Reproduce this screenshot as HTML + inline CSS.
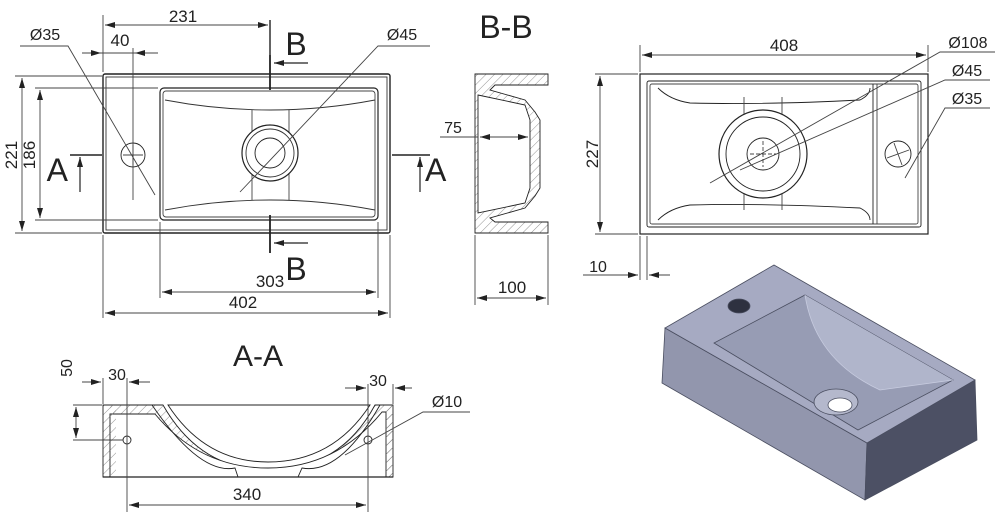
<!DOCTYPE html>
<html><head><meta charset="utf-8"><style>
html,body{margin:0;padding:0;background:#fff}
svg{display:block}
text{font-family:"Liberation Sans",sans-serif;fill:#222}
</style></head><body>
<svg width="1000" height="516" viewBox="0 0 1000 516" xmlns="http://www.w3.org/2000/svg">
<defs>
<marker id="ar" markerWidth="10" markerHeight="6" refX="10" refY="3" orient="auto-start-reverse" markerUnits="userSpaceOnUse"><path d="M0,0 L10,3 L0,6 z" fill="#222"/></marker>
<pattern id="h" width="6" height="6" patternUnits="userSpaceOnUse" patternTransform="rotate(45)"><line x1="0" y1="0" x2="0" y2="6" stroke="#777" stroke-width="0.8"/></pattern>
</defs>
<g stroke="#444" stroke-width="0.9" fill="none">
<!-- TOP-LEFT PLAN -->
<rect x="103" y="74" width="287" height="159" stroke="#222" stroke-width="1.4" rx="2"/>
<rect x="106" y="77" width="281" height="153" stroke="#333"/>
<rect x="160" y="88" width="218" height="132" stroke="#222" stroke-width="1.2" rx="4"/>
<rect x="163" y="91" width="212" height="126" stroke="#444" rx="3"/>
<path d="M165,100 Q270,120 375,100" stroke="#333"/>
<path d="M165,210 Q270,190 375,210" stroke="#333"/>
<line x1="252" y1="110" x2="252" y2="200"/><line x1="289" y1="110" x2="289" y2="200"/>
<circle cx="270" cy="153" r="28" stroke="#222" stroke-width="1.2" fill="#fff"/>
<circle cx="270" cy="153" r="24" stroke="#333"/>
<circle cx="270" cy="153" r="15" stroke="#222"/>
<circle cx="133" cy="155" r="12" stroke="#222"/>
<line x1="123" y1="155" x2="143" y2="155"/><line x1="133" y1="145" x2="133" y2="165"/>
<!-- dims -->
<line x1="103" y1="15" x2="103" y2="72"/>
<line x1="270" y1="20" x2="270" y2="55" stroke="#222" stroke-width="1.4"/>
<line x1="270" y1="55" x2="270" y2="90" stroke="#222" stroke-width="1.8"/>
<line x1="270" y1="215" x2="270" y2="253" stroke="#222" stroke-width="1.8"/>
<line x1="105" y1="25" x2="268" y2="25" marker-start="url(#ar)" marker-end="url(#ar)"/>
<line x1="133" y1="48" x2="133" y2="200"/>
<line x1="82" y1="53" x2="101" y2="53" marker-end="url(#ar)"/>
<line x1="158" y1="53" x2="135" y2="53" marker-end="url(#ar)"/>
<line x1="101" y1="53" x2="135" y2="53"/>
<polyline points="20,46 68,46 155,195"/>
<polyline points="430,46 378,46 240,192"/>
<line x1="274" y1="63" x2="308" y2="63" stroke="#222" stroke-width="1.2" marker-start="url(#ar)"/>
<line x1="274" y1="243" x2="308" y2="243" stroke="#222" stroke-width="1.2" marker-start="url(#ar)"/>
<line x1="15" y1="76" x2="102" y2="76"/><line x1="15" y1="233" x2="102" y2="233"/>
<line x1="22" y1="78" x2="22" y2="231" marker-start="url(#ar)" marker-end="url(#ar)"/>
<line x1="35" y1="88" x2="158" y2="88"/><line x1="35" y1="220" x2="158" y2="220"/>
<line x1="40" y1="90" x2="40" y2="218" marker-start="url(#ar)" marker-end="url(#ar)"/>
<line x1="70" y1="155" x2="102" y2="155" stroke="#222" stroke-width="1.4"/>
<line x1="80" y1="192" x2="80" y2="157" stroke="#222" stroke-width="1.2" marker-end="url(#ar)"/>
<line x1="392" y1="155" x2="430" y2="155" stroke="#222" stroke-width="1.4"/>
<line x1="420" y1="192" x2="420" y2="157" stroke="#222" stroke-width="1.2" marker-end="url(#ar)"/>
<line x1="160" y1="222" x2="160" y2="298"/><line x1="378" y1="222" x2="378" y2="298"/>
<line x1="162" y1="292" x2="376" y2="292" marker-start="url(#ar)" marker-end="url(#ar)"/>
<line x1="103" y1="235" x2="103" y2="318"/><line x1="390" y1="235" x2="390" y2="318"/>
<line x1="105" y1="313" x2="388" y2="313" marker-start="url(#ar)" marker-end="url(#ar)"/>
<!-- B-B SECTION -->
<path d="M475,74 L548,74 L548,85 L495,85 L490,90 L525,100 L535,112 L540,120 L540,188 L535,196 L525,208 L490,218 L495,222 L548,222 L548,233 L475,233 Z" fill="url(#h)" stroke="#222"/>
<path d="M478,95 L525,105 L530,120 L530,188 L525,203 L478,213 Z" fill="#fff" stroke="#222"/>
<line x1="440" y1="137" x2="478" y2="137"/>
<line x1="480" y1="137" x2="528" y2="137" marker-start="url(#ar)" marker-end="url(#ar)"/>
<line x1="475" y1="235" x2="475" y2="305"/><line x1="548" y1="235" x2="548" y2="305"/>
<line x1="477" y1="298" x2="546" y2="298" marker-start="url(#ar)" marker-end="url(#ar)"/>
<!-- RIGHT PLAN -->
<rect x="640" y="74" width="288" height="160" stroke="#222" stroke-width="1.2"/>
<rect x="647" y="81" width="274" height="146" stroke="#222" rx="2"/>
<rect x="650" y="84" width="268" height="140" stroke="#444" rx="2"/>
<line x1="873" y1="84" x2="873" y2="224" stroke="#222"/>
<line x1="877" y1="84" x2="877" y2="224"/>
<path d="M658,88 Q670,100 690,103 Q763,105 860,100 Q870,95 870,88" stroke="#222"/>
<path d="M658,220 Q670,208 690,205 Q763,203 860,208 Q870,213 870,220" stroke="#222"/>
<line x1="744" y1="97" x2="744" y2="210"/><line x1="782" y1="97" x2="782" y2="210"/>
<circle cx="763" cy="154" r="44" stroke="#222" stroke-width="1.2" fill="#fff"/>
<circle cx="763" cy="154" r="37" stroke="#222"/>
<circle cx="763" cy="154" r="16" stroke="#222"/>
<line x1="750" y1="154" x2="776" y2="154" stroke-dasharray="4,2"/><line x1="763" y1="141" x2="763" y2="167" stroke-dasharray="4,2"/>
<circle cx="898" cy="154" r="13" stroke="#222"/>
<line x1="887" y1="158" x2="909" y2="150"/><line x1="894" y1="143" x2="902" y2="165"/>
<line x1="640" y1="45" x2="640" y2="72"/><line x1="928" y1="45" x2="928" y2="72"/>
<line x1="642" y1="55" x2="926" y2="55" marker-start="url(#ar)" marker-end="url(#ar)"/>
<line x1="595" y1="74" x2="638" y2="74"/><line x1="595" y1="234" x2="638" y2="234"/>
<line x1="600" y1="76" x2="600" y2="232" marker-start="url(#ar)" marker-end="url(#ar)"/>
<polyline points="995,52 940,52 710,183"/>
<polyline points="990,80 945,80 740,170"/>
<polyline points="990,108 945,108 905,178"/>
<line x1="640" y1="236" x2="640" y2="280"/><line x1="647" y1="236" x2="647" y2="280"/>
<line x1="583" y1="275" x2="638" y2="275" marker-end="url(#ar)"/>
<line x1="670" y1="275" x2="649" y2="275" marker-end="url(#ar)"/>
<!-- A-A SECTION -->
<path d="M103,405 L163,405 Q200,470 268,470 Q340,470 375,405 L393,405 L393,477 L103,477 Z" fill="url(#h)" stroke="#222"/>
<path d="M110,414 L155,414 Q200,468 268,468 Q336,468 382,412 L386,412 L386,477 L110,477 Z" fill="#fff" stroke="#222"/>
<path d="M168,405 Q205,462 268,462 Q333,462 370,405 Z" fill="#fff" stroke="#222"/>
<path d="M152,405 Q200,475 235,468 L238,477 L298,477 L302,468 Q340,475 380,405" fill="none" stroke="#222"/>
<rect x="110" y="405" width="6" height="72" fill="url(#h)" stroke="none"/>
<rect x="386" y="405" width="7" height="72" fill="url(#h)" stroke="none"/>
<line x1="103" y1="477" x2="393" y2="477" stroke="#222" stroke-width="1.2"/>
<circle cx="127" cy="440" r="4" fill="#fff" stroke="#222"/>
<circle cx="368" cy="440" r="4" fill="#fff" stroke="#222"/>
<line x1="127" y1="378" x2="127" y2="512"/><line x1="368" y1="384" x2="368" y2="512"/>
<line x1="103" y1="378" x2="103" y2="404"/><line x1="393" y1="384" x2="393" y2="404"/>
<line x1="82" y1="382" x2="101" y2="382" marker-end="url(#ar)"/>
<line x1="150" y1="382" x2="129" y2="382" marker-end="url(#ar)"/>
<line x1="345" y1="388" x2="366" y2="388" marker-end="url(#ar)"/>
<line x1="412" y1="388" x2="395" y2="388" marker-end="url(#ar)"/>
<line x1="73" y1="405" x2="102" y2="405"/><line x1="73" y1="440" x2="123" y2="440"/>
<line x1="76" y1="407" x2="76" y2="438" marker-start="url(#ar)" marker-end="url(#ar)"/>
<line x1="129" y1="505" x2="366" y2="505" marker-start="url(#ar)" marker-end="url(#ar)"/>
<polyline points="470,412 423,412 345,455"/>
</g>
<!-- ISOMETRIC -->
<g stroke="#4a4e60" stroke-width="0.8">
<polygon points="665,328 867,443 865,500 662,383" fill="#9296ad"/>
<polygon points="867,443 975,380 977,440 865,500" fill="#4c5064"/>
<polygon points="774,265 975,380 867,443 665,328" fill="#a6aac2"/>
<polygon points="805,295 953,380 858,430 714,343" fill="#979cb4"/>
<path d="M805,295 Q815,360 880,390 L953,380" fill="#b0b5cb" stroke="#c8cce0"/>
<ellipse cx="739" cy="306" rx="11" ry="7" fill="#2e3140"/>
<ellipse cx="836" cy="402" rx="22" ry="13" fill="#b4b8cc"/>
<ellipse cx="840" cy="405" rx="12" ry="7" fill="#fff"/>
</g>
<!-- TEXT -->
<text x="183" y="22" font-size="17" text-anchor="middle">231</text>
<text x="120" y="46" font-size="17" text-anchor="middle">40</text>
<text x="45" y="40" font-size="16" text-anchor="middle">Ø35</text>
<text x="402" y="40" font-size="16" text-anchor="middle">Ø45</text>
<text x="296" y="55" font-size="32" text-anchor="middle">B</text>
<text x="296" y="280" font-size="32" text-anchor="middle">B</text>
<text x="68" y="181" font-size="32" text-anchor="end">A</text>
<text x="425" y="181" font-size="32">A</text>
<text transform="translate(17,155) rotate(-90)" font-size="17" text-anchor="middle">221</text>
<text transform="translate(35,155) rotate(-90)" font-size="17" text-anchor="middle">186</text>
<text x="270" y="287" font-size="17" text-anchor="middle">303</text>
<text x="243" y="308" font-size="17" text-anchor="middle">402</text>
<text x="506" y="38" font-size="32" text-anchor="middle">B-B</text>
<text x="453" y="133" font-size="16" text-anchor="middle">75</text>
<text x="512" y="293" font-size="17" text-anchor="middle">100</text>
<text x="784" y="51" font-size="17" text-anchor="middle">408</text>
<text transform="translate(598,154) rotate(-90)" font-size="17" text-anchor="middle">227</text>
<text x="968" y="48" font-size="16" text-anchor="middle">Ø108</text>
<text x="967" y="76" font-size="16" text-anchor="middle">Ø45</text>
<text x="967" y="104" font-size="16" text-anchor="middle">Ø35</text>
<text x="598" y="272" font-size="16" text-anchor="middle">10</text>
<text x="258" y="366" font-size="30" text-anchor="middle">A-A</text>
<text x="117" y="380" font-size="16" text-anchor="middle">30</text>
<text x="378" y="386" font-size="16" text-anchor="middle">30</text>
<text transform="translate(72,368) rotate(-90)" font-size="16" text-anchor="middle">50</text>
<text x="447" y="407" font-size="16" text-anchor="middle">Ø10</text>
<text x="247" y="500" font-size="17" text-anchor="middle">340</text>
</svg>
</body></html>
